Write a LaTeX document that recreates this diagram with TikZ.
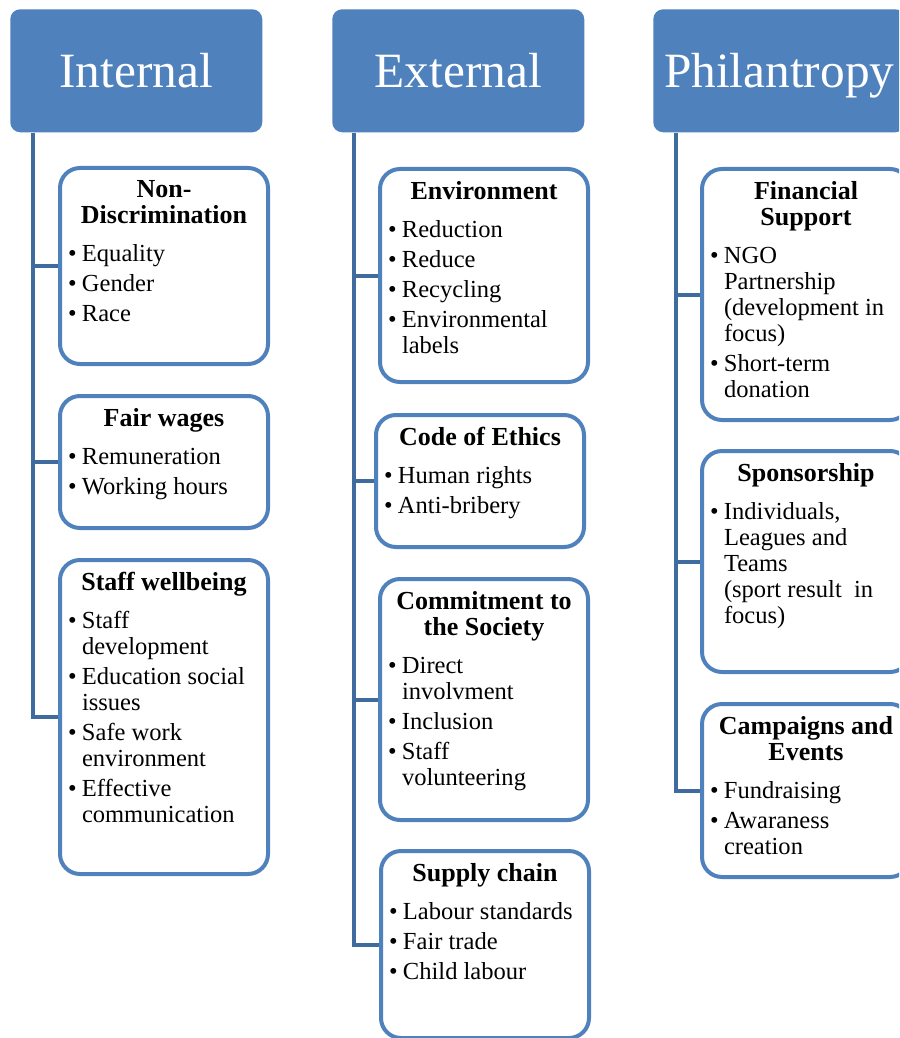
\documentclass[tikz,border=0pt]{standalone}
\usepackage{fontspec}
\setmainfont{Liberation Serif}
\usetikzlibrary{backgrounds}

\definecolor{boxblue}{HTML}{4F81BD}
\definecolor{lineblue}{HTML}{3F6B9E}

\newcommand{\ttl}{\bfseries\fontsize{19.5}{19.5}\selectfont}
\newcommand{\bdy}{\normalfont\fontsize{18.4}{19.5}\selectfont}
\newcommand{\itm}[1]{\par\vspace{3pt}\hangindent=10.5pt\hangafter=1\noindent\makebox[10.5pt][l]{\textbullet}#1}
\newcommand{\cardtext}[3]{\parbox[c][\dimexpr#1pt*3/4-18pt\relax][t]{144pt}{{\centering\ttl #2\par}\vspace{6pt}\raggedright\bdy #3}}

\begin{document}
\begin{tikzpicture}[x=0.75pt,y=-0.75pt,
    hdr/.style={fill=boxblue, rounded corners=7.5pt, anchor=north west,
        minimum width=189pt, minimum height=92.25pt, text=white,
        font=\fontsize{37}{37}\selectfont, text height=25pt, text depth=0pt},
    card/.style={draw=boxblue, line width=3pt, fill=white, rounded corners=15pt,
        anchor=north west, inner xsep=6pt, inner ysep=9pt},
    trunk/.style={draw=lineblue, line width=3pt}]
\useasboundingbox (0,0) rectangle (899,1038);
\clip (0,0) rectangle (899,1038);

\node[hdr] (int) at (10,9) {Internal};
\node[hdr] (ext) at (332,9) {External};
\node[hdr] (phil) at (653,9) {Philantropy};

% internal
\node[card] (nondis) at (58,166) {\cardtext{196}{Non-\\Discrimination}{\itm{Equality}\itm{Gender}\itm{Race}}};
\node[card] (wages) at (58,394) {\cardtext{132}{Fair wages}{\itm{Remuneration}\itm{Working hours}}};
\node[card] (staff) at (58,558) {\cardtext{314}{Staff wellbeing}{\itm{Staff\newline development}\itm{Education social\newline issues}\itm{Safe work\newline environment}\itm{Effective\newline communication}}};

% external
\node[card] (env) at (378,167) {\cardtext{213}{Environment}{\itm{Reduction}\itm{Reduce}\itm{Recycling}\itm{Environmental\newline labels}}};
\node[card] (ethics) at (374,413) {\cardtext{132}{Code of Ethics}{\itm{Human rights}\itm{Anti-bribery}}};
\node[card] (society) at (378,577) {\cardtext{241}{Commitment to\\the Society}{\itm{Direct\newline involvment}\itm{Inclusion}\itm{Staff\newline volunteering}}};
\node[card] (supply) at (379,849) {\cardtext{187}{Supply chain}{\itm{Labour standards}\itm{Fair trade}\itm{Child labour}}};

% philantropy
\node[card] (finance) at (700,167) {\cardtext{251}{Financial\\Support}{\itm{NGO\newline Partnership\newline (development in\newline focus)}\itm{Short-term\newline donation}}};
\node[card] (sponsor) at (700,449) {\cardtext{221}{Sponsorship}{\itm{Individuals,\newline Leagues and\newline Teams\newline (sport result\ \ in\newline focus)}}};
\node[card] (events) at (700,702) {\cardtext{173}{Campaigns and\\Events}{\itm{Fundraising}\itm{Awaraness\newline creation}}};

\begin{scope}[on background layer]
\draw[trunk] (int.south west) ++(23,0) coordinate (tI) |- (staff.west);
\draw[trunk] (ext.south west) ++(22,0) coordinate (tE) |- (supply.west);
\draw[trunk] (phil.south west) ++(23,0) coordinate (tP) |- (events.west);
\foreach \n in {nondis,wages}
    \draw[trunk] (tI |- \n.west) -- (\n.west);
\foreach \n in {env,ethics,society}
    \draw[trunk] (tE |- \n.west) -- (\n.west);
\foreach \n in {finance,sponsor}
    \draw[trunk] (tP |- \n.west) -- (\n.west);
\end{scope}

\end{tikzpicture}
\end{document}
